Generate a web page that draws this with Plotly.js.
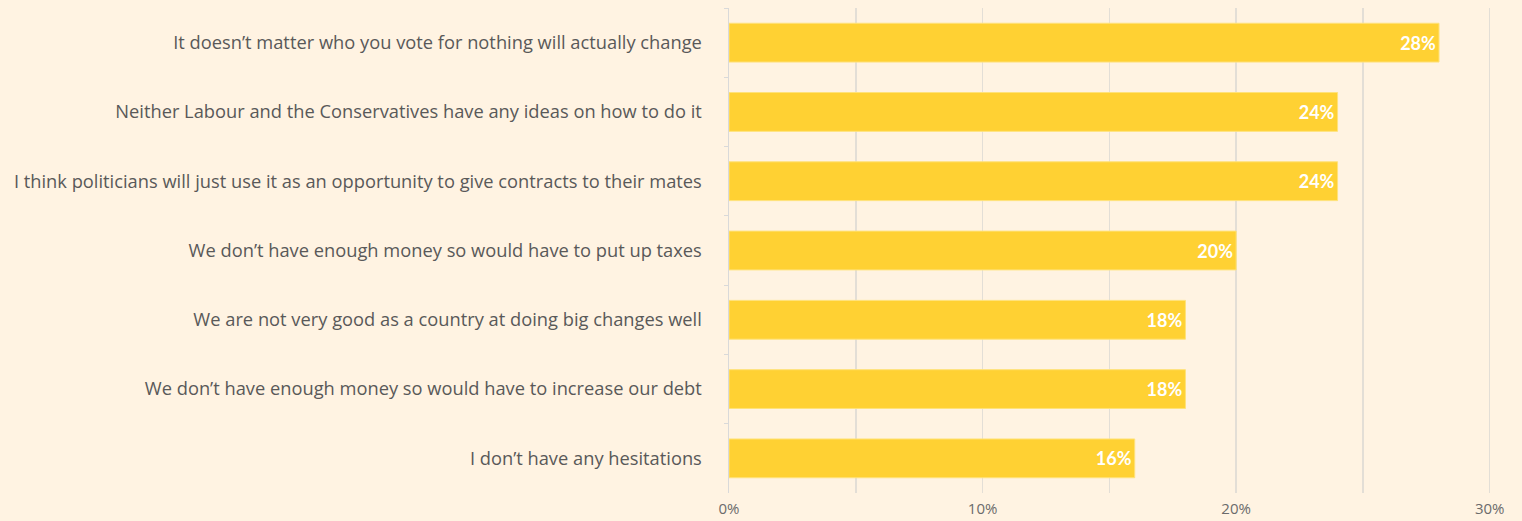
<!DOCTYPE html>
<html>
<head>
<meta charset="utf-8">
<script src="https://cdn.plot.ly/plotly-3.0.1.min.js"></script>
<style>html,body{margin:0;padding:0;background:#FFF3E2;}#chart{width:1522px;height:521px;}</style>
</head>
<body>
<div id="chart"></div>
<script>
const categories = [
  "It doesn\u2019t matter who you vote for nothing will actually change",
  "Neither Labour and the Conservatives have any ideas on how to do it",
  "I think politicians will just use it as an opportunity to give contracts to their mates",
  "We don\u2019t have enough money so would have to put up taxes",
  "We are not very good as a country at doing big changes well",
  "We don\u2019t have enough money so would have to increase our debt",
  "I don\u2019t have any hesitations"
];
const values = [28, 24, 24, 20, 18, 18, 16];
const tickValues = [0, 10, 20, 30];
const tickLabels = ["0%", "10%", "20%", "30%"];

const trace = {
  type: 'bar',
  orientation: 'h',
  y: categories,
  x: values,
  marker: {color: '#FFD133', line: {color: '#FFE27A', width: 1}},
  text: values.map(v => v + '%'),
  textposition: 'inside',
  insidetextanchor: 'end',
  textfont: {family: 'Lato, sans-serif', size: 18, color: '#FFFFFF', weight: 'bold'},
  cliponaxis: false,
  hoverinfo: 'none'
};

const layout = {
  width: 1522, height: 521,
  paper_bgcolor: '#FFF3E2', plot_bgcolor: '#FFF3E2',
  margin: {l: 729, r: 31, t: 8, b: 28, pad: 0},
  bargap: 0.44,
  showlegend: false,
  font: {family: 'Lato, sans-serif', color: '#595959'},
  xaxis: {
    range: [0, 30.05],
    tickvals: tickValues,
    ticktext: tickLabels,
    showgrid: true, gridcolor: '#E3DED6', gridwidth: 1.5,
    minor: {dtick: 5, tick0: 0, showgrid: true, gridcolor: '#E3DED6', gridwidth: 1.5},
    zeroline: false, showline: false,
    ticks: '', ticklabelstandoff: 5, tickfont: {family: 'Open Sans, sans-serif', size: 15, color: '#6b6b6b'},
    fixedrange: true
  },
  yaxis: {
    type: 'category',
    autorange: 'reversed',
    showline: true, linecolor: '#D9D9D9', linewidth: 1.5,
    ticks: 'outside', tickson: 'boundaries', ticklen: 4, tickcolor: '#D9D9D9',
    ticklabelstandoff: 22,
    tickfont: {family: 'Open Sans, sans-serif', size: 18.3, color: '#595959'},
    showgrid: false, zeroline: false,
    fixedrange: true
  }
};

Plotly.newPlot('chart', [trace], layout, {displayModeBar: false, staticPlot: true});
</script>
</body>
</html>
